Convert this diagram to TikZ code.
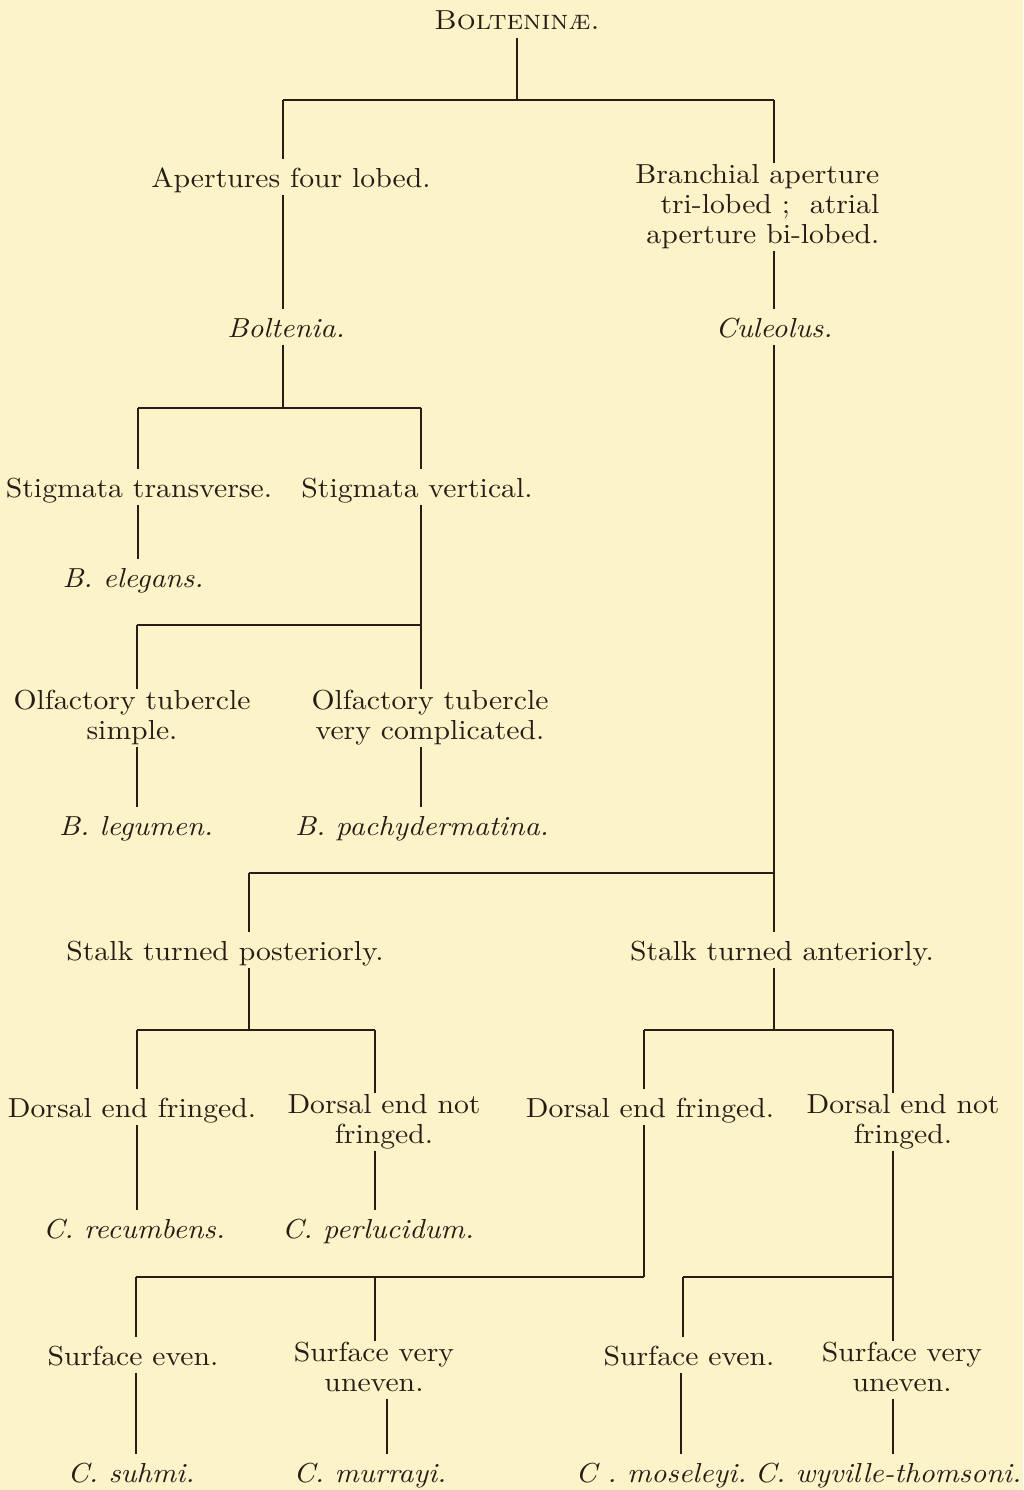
\documentclass[tikz,border=0pt]{standalone}
\usepackage{fontspec}
\setmainfont{lmroman10-regular}[Extension=.otf, ItalicFont=lmroman10-italic, BoldFont=lmroman10-bold, SmallCapsFont=lmromancaps10-regular, FakeStretch=1.08]
\definecolor{paper}{RGB}{253,243,201}
\definecolor{ink}{RGB}{38,30,22}
\newcommand\lnstrut{\rule[-7pt]{0pt}{34pt}}

\begin{document}
\begin{tikzpicture}[x=1pt, y=-1pt, line width=1.3pt, draw=ink,
    every node/.style={font=\fontsize{27.5}{30}\selectfont, text=ink, inner xsep=2pt, inner ysep=0pt,
      execute at begin node=\lnstrut, execute at end node=\lnstrut},
    lbl/.style={align=center},
    sp/.style={align=center, font=\fontsize{27.5}{30}\selectfont\itshape},
    branch/.style={draw=ink, line width=1.3pt}]
			\fill[paper] (0,0) rectangle (1023,1490);
			\useasboundingbox (0,0) rectangle (1023,1490);
			
			\node[lbl] (ttl) at (517,20) {\textsc{Bolteninæ.}};
			\node[lbl] (apert) at (291,177) {Apertures four lobed.};
			\node[lbl, align=right, anchor=east] (branch) at (882,207) {Branchial aperture\\tri-lobed ;\ \ atrial\\aperture bi-lobed.};
			\node[sp] (bolt) at (286,327) {Boltenia.};
			\node[sp] (cule) at (774,327) {Culeolus.};
			\node[lbl] (stigt) at (139,487) {Stigmata transverse.};
			\node[lbl] (stigv) at (417,487) {Stigmata vertical.};
			\node[sp] (eleg) at (133,577) {B. elegans.};
			\node[lbl] (olfs) at (132,718) {Olfactory tubercle\\simple.};
			\node[lbl] (olfc) at (430,718) {Olfactory tubercle\\very complicated.};
			\node[sp] (legu) at (136,825) {B. legumen.};
			\node[sp] (pachy) at (422,825) {B. pachydermatina.};
			\node[lbl] (stalkp) at (225,950) {Stalk turned posteriorly.};
			\node[lbl] (stalka) at (782,950) {Stalk turned anteriorly.};
			\node[lbl] (dorsa) at (132,1107) {Dorsal end fringed.};
			\node[lbl] (dnota) at (384,1122) {Dorsal end not\\fringed.};
			\node[lbl] (dorsb) at (650,1107) {Dorsal end fringed.};
			\node[lbl] (dnotb) at (903,1122) {Dorsal end not\\fringed.};
			\node[sp] (recu) at (134,1228) {C. recumbens.};
			\node[sp] (perl) at (378,1228) {C. perlucidum.};
			\node[lbl] (surfa) at (133,1355) {Surface even.};
			\node[lbl] (unva) at (374,1370) {Surface very\\uneven.};
			\node[lbl] (surfb) at (689,1355) {Surface even.};
			\node[lbl] (unvb) at (902,1370) {Surface very\\uneven.};
			\node[sp] (suhmi) at (131,1472) {C. suhmi.};
			\node[sp] (murr) at (370,1472) {C. murrayi.};
			\node[sp] (mosel) at (661,1472) {C . moseleyi.};
			\node[sp] (wyv) at (888,1472) {C. wyville-thomsoni.};
			
			% bars
			\coordinate (r0l) at (283,100); \coordinate (r0r) at (774,100);
			\coordinate (r1l) at (138,408); \coordinate (r1r) at (421,408);
			\coordinate (r2l) at (137,625); \coordinate (r2r) at (421,625);
			\coordinate (r3l) at (249,873); \coordinate (r3r) at (774,873);
			\coordinate (r4l) at (137,1030); \coordinate (r4m) at (375,1030);
			\coordinate (r4n) at (644,1030); \coordinate (r4r) at (893,1030);
			\coordinate (r5l) at (136,1277); \coordinate (r5m) at (644,1277);
			\coordinate (r5n) at (683,1277); \coordinate (r5r) at (893,1277);
			\coordinate (k1) at (387,1420); \coordinate (k2) at (681,1420);
			
			\path[branch]
			(r0l) edge (r0r) (r1l) edge (r1r) (r2l) edge (r2r) (r3l) edge (r3r)
			(r4l) edge (r4m) (r4n) edge (r4r) (r5l) edge (r5m) (r5n) edge (r5r)
			(ttl.south) edge (ttl.south |- r0l)
			(r0l) edge (apert.north -| r0l)
			(apert.south -| r0l) edge (bolt.north -| r0l)
			(bolt.south -| r0l) edge (r0l |- r1l)
			(r0r) edge (branch.north -| r0r)
			(branch.south -| r0r) edge (cule.north -| r0r)
			(cule.south -| r0r) edge (r3r)
			(r1l) edge (stigt.north -| r1l)
			(stigt.south -| r1l) edge (eleg.north -| r1l)
			(r1r) edge (stigv.north -| r1r)
			(stigv.south -| r1r) edge (r2r)
			(r2l) edge (olfs.north -| r2l)
			(olfs.south -| r2l) edge (legu.north -| r2l)
			(r2r) edge (olfc.north -| r2r)
			(olfc.south -| r2r) edge (pachy.north -| r2r)
			(r3l) edge (stalkp.north -| r3l)
			(stalkp.south -| r3l) edge (r3l |- r4l)
			(r3r) edge (stalka.north -| r3r)
			(stalka.south -| r3r) edge (r3r |- r4n)
			(r4l) edge (dorsa.north -| r4l)
			(dorsa.south -| r4l) edge (recu.north -| r4l)
			(r4m) edge (dnota.north -| r4m)
			(dnota.south -| r4m) edge (perl.north -| r4m)
			(r4n) edge (dorsb.north -| r4n)
			(dorsb.south -| r4n) edge (r5m)
			(r4r) edge (dnotb.north -| r4r)
			(dnotb.south -| r4r) edge (r5r)
			(r5l) edge (surfa.north -| r5l)
			(surfa.south -| r5l) edge (suhmi.north -| r5l)
			(r4m |- r5l) edge (unva.north -| r4m)
			(unva.south -| k1) edge (murr.north -| k1)
			(r5n) edge (surfb.north -| r5n)
			(surfb.south -| k2) edge (mosel.north -| k2)
			(r5r) edge (unvb.north -| r5r)
			(unvb.south -| r5r) edge (wyv.north -| r5r);
			
		\end{tikzpicture}
\end{document}
